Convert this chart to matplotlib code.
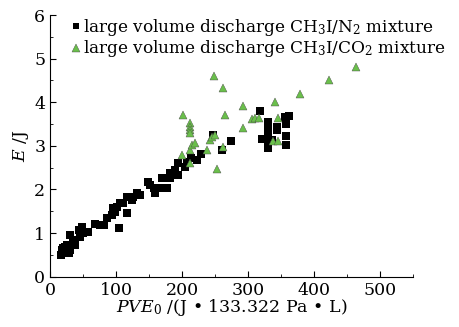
import numpy as np
import matplotlib
matplotlib.use("Agg")
import matplotlib.pyplot as plt
from matplotlib.ticker import MultipleLocator

plt.rcParams['font.family'] = ['DejaVu Serif']
plt.rcParams['mathtext.fontset'] = 'dejavuserif'

# CH3I/N2 mixture (black squares)
n2_x = [17, 18, 20, 19, 23, 25, 22, 28, 30, 30, 38, 35, 43, 48, 45, 50, 58, 68, 76, 81,
        86, 93, 96, 98, 101, 104, 106, 111, 116, 116, 124, 126, 131, 136, 149, 152, 157,
        159, 169, 169, 177, 182, 182, 189, 194, 194, 205, 207, 214, 222, 229, 247, 260,
        274, 318, 321, 330, 330, 330, 330, 330, 330, 336, 344, 344, 356, 358, 362, 358, 358, 358]
n2_y = [0.50, 0.60, 0.57, 0.65, 0.69, 0.73, 0.55, 0.54, 0.61, 0.96, 0.73, 0.84, 1.07, 1.15,
        0.92, 1.00, 1.03, 1.21, 1.19, 1.19, 1.34, 1.41, 1.57, 1.49, 1.60, 1.11, 1.68, 1.68,
        1.82, 1.45, 1.76, 1.83, 1.91, 1.87, 2.18, 2.10, 2.03, 1.91, 2.03, 2.26, 2.03, 2.26,
        2.37, 2.45, 2.60, 2.33, 2.52, 2.64, 2.71, 2.68, 2.81, 3.25, 2.90, 3.12, 3.81, 3.15,
        2.96, 3.08, 3.20, 3.32, 3.44, 3.54, 3.13, 3.44, 3.37, 3.67, 3.50, 3.69, 3.23, 3.02, 3.50]

# CH3I/CO2 mixture (green triangles)
co2_x = [201, 212, 212, 212, 212, 200, 212, 215, 220, 212, 238, 242, 245, 250, 249, 262,
         265, 262, 253, 292, 292, 306, 311, 316, 341, 345, 338, 345, 379, 422, 464]
co2_y = [3.71, 3.52, 3.44, 3.36, 3.29, 2.79, 2.90, 3.02, 3.06, 2.60, 2.90, 3.13, 3.21, 3.25,
         4.60, 4.32, 3.71, 2.98, 2.48, 3.91, 3.42, 3.61, 3.63, 3.65, 4.01, 3.63, 3.10, 3.10,
         4.20, 4.51, 4.80]

fig = plt.figure(figsize=(4.6, 3.27), dpi=100)
ax = fig.add_axes([0.109, 0.154, 0.789, 0.8])

ax.plot(n2_x, n2_y, 's', color='black', ms=5.5, mew=0,
        label=r'large volume discharge CH$_3$I/N$_2$ mixture')
ax.plot(co2_x, co2_y, '^', color='#6abf4b', mec='#4a4a4a', mew=0.3, ms=6,
        label=r'large volume discharge CH$_3$I/CO$_2$ mixture')

ax.set_xlim(0, 550)
ax.set_ylim(0, 6)
ax.xaxis.set_major_locator(MultipleLocator(100))
ax.xaxis.set_minor_locator(MultipleLocator(50))
ax.yaxis.set_major_locator(MultipleLocator(1))
ax.yaxis.set_minor_locator(MultipleLocator(0.5))
ax.tick_params(which='both', direction='in', labelsize=12.5)
ax.tick_params(which='major', length=4)
ax.tick_params(which='minor', length=2)
ax.spines['top'].set_visible(False)
ax.spines['right'].set_visible(False)

ax.set_xlabel(r'$PVE_0$ /(J • 133.322 Pa • L)', fontsize=12.5, labelpad=-1)
ax.set_ylabel(r'$E$ /J', fontsize=12.5, labelpad=2)

ax.legend(loc='upper left', bbox_to_anchor=(0.04, 1.02), frameon=False, fontsize=12.2,
          handlelength=0.5, handletextpad=0.2, borderaxespad=0, labelspacing=0.05,
          markerscale=0.9)

fig.savefig('out.png', dpi=100)
